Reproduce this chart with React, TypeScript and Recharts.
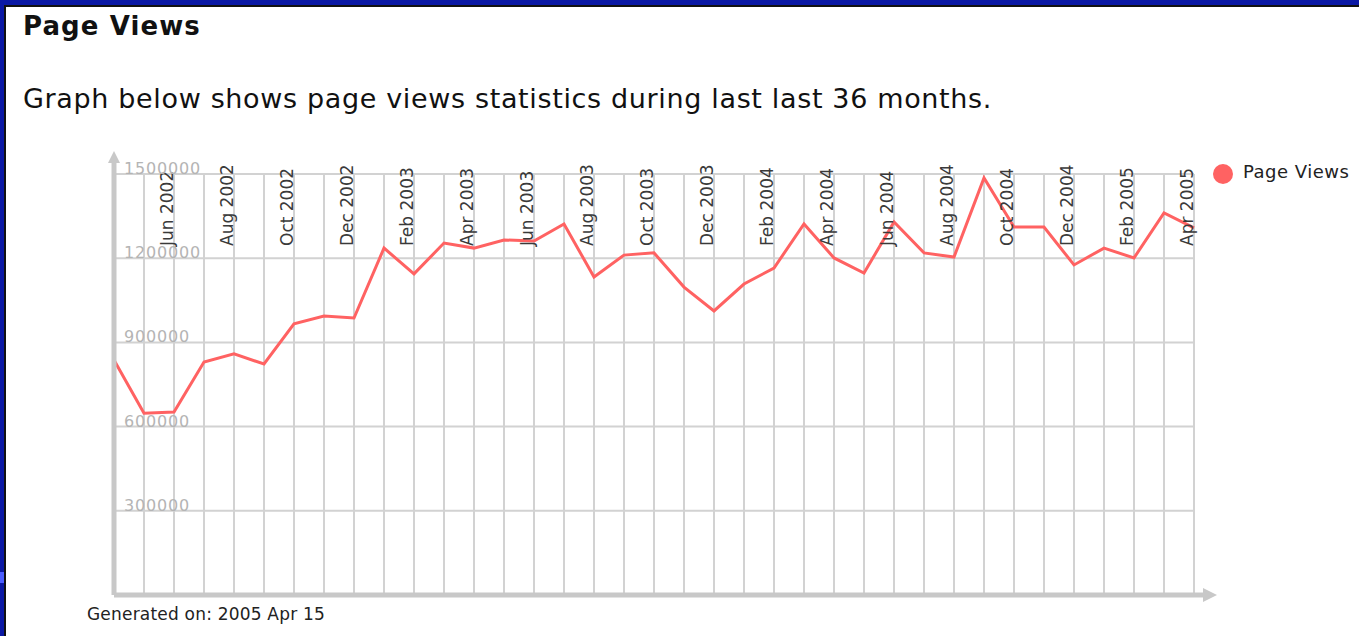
import { LineChart, Line, XAxis, YAxis, CartesianGrid, ReferenceLine, Legend } from "recharts"

// months shown on the x axis (last 36 months + current)
const months = [
  "Apr 2002", "May 2002", "Jun 2002", "Jul 2002", "Aug 2002", "Sep 2002", "Oct 2002", "Nov 2002", "Dec 2002",
  "Jan 2003", "Feb 2003", "Mar 2003", "Apr 2003", "May 2003", "Jun 2003", "Jul 2003", "Aug 2003", "Sep 2003",
  "Oct 2003", "Nov 2003", "Dec 2003", "Jan 2004", "Feb 2004", "Mar 2004", "Apr 2004", "May 2004", "Jun 2004",
  "Jul 2004", "Aug 2004", "Sep 2004", "Oct 2004", "Nov 2004", "Dec 2004", "Jan 2005", "Feb 2005", "Mar 2005",
  "Apr 2005",
]

const pageViews = [
  837000, 648000, 652000, 830000, 859000, 823000, 966000, 994000, 987000,
  1236000, 1144000, 1254000, 1236000, 1265000, 1261000, 1322000, 1133000, 1211000,
  1219000, 1097000, 1012000, 1108000, 1165000, 1322000, 1201000, 1147000, 1329000,
  1219000, 1204000, 1486000, 1311000, 1311000, 1176000, 1236000, 1201000, 1361000,
  1308000,
]

// only every other month gets a label
const tickLabels = [
  "Jun 2002", "Aug 2002", "Oct 2002", "Dec 2002", "Feb 2003", "Apr 2003", "Jun 2003", "Aug 2003", "Oct 2003",
  "Dec 2003", "Feb 2004", "Apr 2004", "Jun 2004", "Aug 2004", "Oct 2004", "Dec 2004", "Feb 2005", "Apr 2005",
]

const yTicks = [0, 300000, 600000, 900000, 1200000, 1500000]

const data = months.map((month, i) => ({ month, views: pageViews[i] }))

const W = 1359
const H = 636
const PLOT = { left: 114, top: 174, right: 1194, bottom: 595 }
const FONT = "'DejaVu Sans', Verdana, sans-serif"
const LINE_COLOR = "#ff6262"
const AXIS_COLOR = "#c8c8c8"

const XTick = (props: any) => {
  const { x, payload } = props
  if (!tickLabels.includes(payload.value)) return <g />
  return (
    <text
      transform={`translate(${x - 1},${PLOT.top + 72}) rotate(-90)`}
      textAnchor="start"
      fontSize={17}
      fill="#3a3a3a"
      fontFamily={FONT}
    >
      {payload.value}
    </text>
  )
}

const YTick = (props: any) => {
  const { y, payload } = props
  if (payload.value === 0) return <g />
  return (
    <text
      x={PLOT.left + 10}
      y={y}
      textAnchor="start"
      fontSize={16}
      letterSpacing={0.8}
      fill="#b4b4b4"
      fontFamily={FONT}
    >
      {payload.value}
    </text>
  )
}

export default function App() {
  return (
    <div
      style={{
        position: "absolute",
        left: 0,
        top: 0,
        width: W,
        height: H,
        overflow: "hidden",
        background: "#0a18a4",
        fontFamily: FONT,
      }}
    >
      <div style={{ position: "absolute", left: 0, top: 572, width: 4, height: 11, background: "#4a5cff" }} />
      <div style={{ position: "absolute", left: 4, top: 5, right: 0, bottom: 0, background: "#111" }} />
      <div style={{ position: "absolute", left: 6, top: 7, right: 0, bottom: 0, background: "#fff" }} />

      <div
        style={{
          position: "absolute",
          left: 23,
          top: 13,
          fontSize: 26,
          lineHeight: "26px",
          fontWeight: "bold",
          letterSpacing: 1.1,
          color: "#111",
          whiteSpace: "nowrap",
        }}
      >
        Page Views
      </div>
      <div
        style={{
          position: "absolute",
          left: 23,
          top: 85,
          fontSize: 27,
          lineHeight: "27px",
          letterSpacing: 0.65,
          color: "#111",
          whiteSpace: "nowrap",
        }}
      >
        Graph below shows page views statistics during last last 36 months.
      </div>

      <div style={{ position: "absolute", left: 0, top: 0 }}>
        <LineChart
          width={W}
          height={H}
          data={data}
          margin={{ top: PLOT.top - 1, left: PLOT.left - 1, right: W - PLOT.right, bottom: H - PLOT.bottom }}
          style={{ fontFamily: FONT }}
        >
          <CartesianGrid stroke="#d2d2d2" strokeWidth={2} />
          <XAxis
            dataKey="month"
            orientation="top"
            scale="point"
            padding={{ left: 0, right: 0 }}
            interval={0}
            height={1}
            tickSize={0}
            tickMargin={0}
            axisLine={false}
            tickLine={false}
            tick={XTick}
          />
          <YAxis
            domain={[0, 1500000]}
            ticks={yTicks}
            interval={0}
            width={1}
            tickSize={0}
            tickMargin={0}
            tickLine={false}
            axisLine={{ stroke: AXIS_COLOR, strokeWidth: 5 }}
            tick={YTick}
          />
          <ReferenceLine y={0} stroke={AXIS_COLOR} strokeWidth={5} />
          <Line
            dataKey="views"
            name="Page Views"
            type="linear"
            stroke={LINE_COLOR}
            strokeWidth={3}
            dot={false}
            isAnimationActive={false}
          />
          <Legend
            layout="vertical"
            align="center"
            verticalAlign="middle"
            iconType="circle"
            iconSize={20}
            wrapperStyle={{ left: 1213, top: 161, width: 160, height: 24 }}
            formatter={(value: string) => (
              <span style={{ color: "#222", fontSize: 18, letterSpacing: 0.5, marginLeft: 6 }}>{value}</span>
            )}
          />
        </LineChart>
      </div>

      {/* axis extensions with arrow heads */}
      <svg
        width={W}
        height={H}
        style={{ position: "absolute", left: 0, top: 0, pointerEvents: "none" }}
      >
        <line x1={PLOT.left} y1={PLOT.top} x2={PLOT.left} y2={162} stroke={AXIS_COLOR} strokeWidth={5} />
        <polygon points={`${PLOT.left},151 ${PLOT.left - 6},163 ${PLOT.left + 6},163`} fill={AXIS_COLOR} />
        <line x1={PLOT.right} y1={PLOT.bottom} x2={1204} y2={PLOT.bottom} stroke={AXIS_COLOR} strokeWidth={5} />
        <polygon
          points={`1217,${PLOT.bottom} 1203,${PLOT.bottom - 7} 1203,${PLOT.bottom + 7}`}
          fill={AXIS_COLOR}
        />
      </svg>

      <div
        style={{
          position: "absolute",
          left: 87,
          top: 606,
          fontSize: 17,
          lineHeight: "17px",
          letterSpacing: 0.2,
          color: "#222",
          whiteSpace: "nowrap",
        }}
      >
        Generated on: 2005 Apr 15
      </div>
    </div>
  )
}
